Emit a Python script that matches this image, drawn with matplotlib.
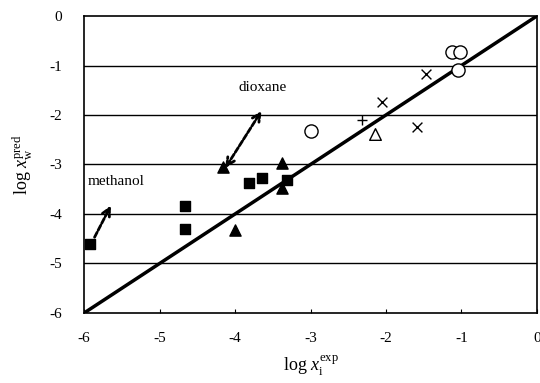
import matplotlib
matplotlib.use('Agg')
import matplotlib.pyplot as plt

plt.rcParams['font.family'] = ['Liberation Serif', 'DejaVu Serif']
plt.rcParams['mathtext.fontset'] = 'custom'
plt.rcParams['mathtext.rm'] = 'Liberation Serif'
plt.rcParams['mathtext.it'] = 'Liberation Serif:italic'
plt.rcParams['axes.unicode_minus'] = False

# filled squares
sq_x = [-5.92, -4.66, -4.66, -3.81, -3.64, -3.31]
sq_y = [-4.60, -3.83, -4.30, -3.37, -3.27, -3.31]

# filled triangles
tri_x = [-4.16, -3.38, -3.38, -4.00]
tri_y = [-3.06, -2.96, -3.47, -4.32]

# open circles
circ_x = [-2.99, -1.13, -1.02, -1.05]
circ_y = [-2.33, -0.73, -0.73, -1.08]

# open triangle
otri_x = [-2.15]
otri_y = [-2.39]

# plus
plus_x = [-2.32]
plus_y = [-2.11]

# crosses
cross_x = [-1.47, -2.05, -1.59]
cross_y = [-1.18, -1.74, -2.25]

fig = plt.figure(figsize=(5.4, 3.83), dpi=100)
ax = fig.add_axes([0.156, 0.183, 0.838, 0.775])

for yy in range(-5, 0):
    ax.axhline(yy, color='black', lw=1, zorder=1)

ax.plot([-6, 0], [-6, 0], color='black', lw=2.5, zorder=2)

ax.scatter(sq_x, sq_y, marker='s', s=55, color='black', zorder=3, clip_on=False)
ax.scatter(tri_x, tri_y, marker='^', s=65, color='black', zorder=3)
ax.scatter(circ_x, circ_y, marker='o', s=90, facecolor='white', edgecolor='black', lw=1, zorder=3)
ax.scatter(otri_x, otri_y, marker='^', s=70, facecolor='white', edgecolor='black', lw=1, zorder=3)
ax.scatter(plus_x, plus_y, marker='+', s=60, color='black', lw=1, zorder=3)
ax.scatter(cross_x, cross_y, marker='x', s=50, color='black', lw=1, zorder=3)

arrow = dict(lw=2, ls=(0, (2, 0.8)), color='black', mutation_scale=14)
ax.annotate('', xy=(-5.63, -3.78), xytext=(-5.88, -4.52),
            arrowprops=dict(arrowstyle='->', **arrow))
ax.text(-5.58, -3.35, 'methanol', ha='center', va='center', fontsize=11)

ax.annotate('', xy=(-3.63, -1.87), xytext=(-4.15, -3.12),
            arrowprops=dict(arrowstyle='<->', **arrow))
ax.text(-3.63, -1.44, 'dioxane', ha='center', va='center', fontsize=11)

ax.set_xlim(-6, 0)
ax.set_ylim(-6, 0)
ax.set_xticks(range(-6, 1))
ax.set_yticks(range(-6, 1))
ax.tick_params(axis='x', direction='in', length=3, labelsize=11, pad=14)
ax.tick_params(axis='y', length=0, labelsize=11, pad=16)
for s in ax.spines.values():
    s.set_linewidth(1.2)

ax.set_xlabel(r'log $x_{\mathrm{i}}^{\mathrm{exp}}$', fontsize=13, labelpad=6)
ax.set_ylabel(r'log $x_{\mathrm{w}}^{\mathrm{pred}}$', fontsize=13, labelpad=10)

fig.savefig('out.png', dpi=100)
